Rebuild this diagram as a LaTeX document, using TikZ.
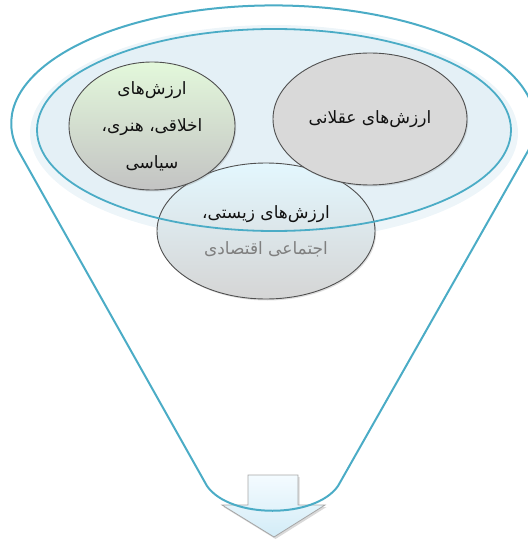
\documentclass[tikz,border=0pt]{standalone}
\usepackage{fontspec}
\usetikzlibrary{shapes.geometric,shadows}
\TeXXeTstate=1
\newfontfamily\farsifont[Script=Arabic]{DejaVu Sans}
\definecolor{Teal}{HTML}{4BACC6}
\definecolor{Halo}{HTML}{EDF5F9}
\definecolor{BowlFill}{HTML}{E4F0F6}
\definecolor{BlobLine}{HTML}{505050}
\definecolor{GreenTop}{HTML}{E3F8DB}
\definecolor{GreyBottom}{HTML}{C3C3C3}
\definecolor{GreyFill}{HTML}{D9D9D9}
\definecolor{SkyTop}{HTML}{E3F7FE}
\definecolor{SkyBottom}{HTML}{D5D5D5}
\definecolor{ArrowLine}{HTML}{A6A6A6}
\definecolor{ArrowTop}{HTML}{F4FBFF}
\definecolor{ArrowBottom}{HTML}{D3ECF7}
\definecolor{Ink}{HTML}{111111}
\definecolor{Muted}{HTML}{7F7F7F}
\tikzset{
  funnelline/.style={draw=Teal,line width=2pt,line join=round},
  blob/.style={ellipse,draw=BlobLine,line width=0.9pt,inner sep=0pt,drop shadow={opacity=0.25,shadow xshift=1.2pt,shadow yshift=-1.5pt}},
  blobtext/.style={font=\farsifont\fontsize{17}{37}\selectfont,align=center,text=Ink},
  arrowbox/.style={draw=ArrowLine,line width=0.8pt,top color=ArrowTop,bottom color=ArrowBottom,drop shadow={opacity=0.3,shadow xshift=1.5pt,shadow yshift=-2pt}}
}

\begin{document}
\begin{tikzpicture}[x=1pt,y=-1pt]
  \useasboundingbox (0,0) rectangle (527,540);
  % bowl of the funnel
  \fill[Halo] (274,133) ellipse[x radius=244, y radius=108];
  \fill[BowlFill] (274,130) ellipse[x radius=237, y radius=101];
  % value groups
  \node[blob,minimum width=218pt,minimum height=136pt,top color=SkyTop,bottom color=SkyBottom] (living) at (266,231) {};
  \node[blob,minimum width=166pt,minimum height=128pt,top color=GreenTop,bottom color=GreyBottom] (ethics) at (152,126) {};
  \node[blob,minimum width=194pt,minimum height=132pt,fill=GreyFill] (reason) at (370,119) {};
  \draw[Teal,line width=1.8pt] (274,130) ellipse[x radius=237, y radius=101];
  \node[blobtext] (ethicstext) at (ethics.center) {\beginR ارزش‌های\endR\\\beginR اخلاقی، هنری،\endR\\\beginR سیاسی\endR};
  \node[blobtext] (reasontext) at (reason.center) {\beginR ارزش‌های عقلانی\endR};
  \node[blobtext,font=\farsifont\fontsize{17}{36}\selectfont] (livingtext) at (living.center) {\beginR ارزش‌های زیستی،\endR\\\textcolor{Muted}{\beginR اجتماعی اقتصادی\endR}};
  % output arrow
  \draw[arrowbox] (248,475) -- (298,475) -- (298,505) -- (325,505) -- (274,537) -- (222,505) -- (248,505) -- cycle;
  % funnel outline
  \draw[funnelline] (18,150) arc[start angle=167, end angle=373, x radius=262, y radius=118]
    -- (338,486) .. controls (315,519) and (230,519) .. (207,486) -- cycle;
\end{tikzpicture}
\end{document}
